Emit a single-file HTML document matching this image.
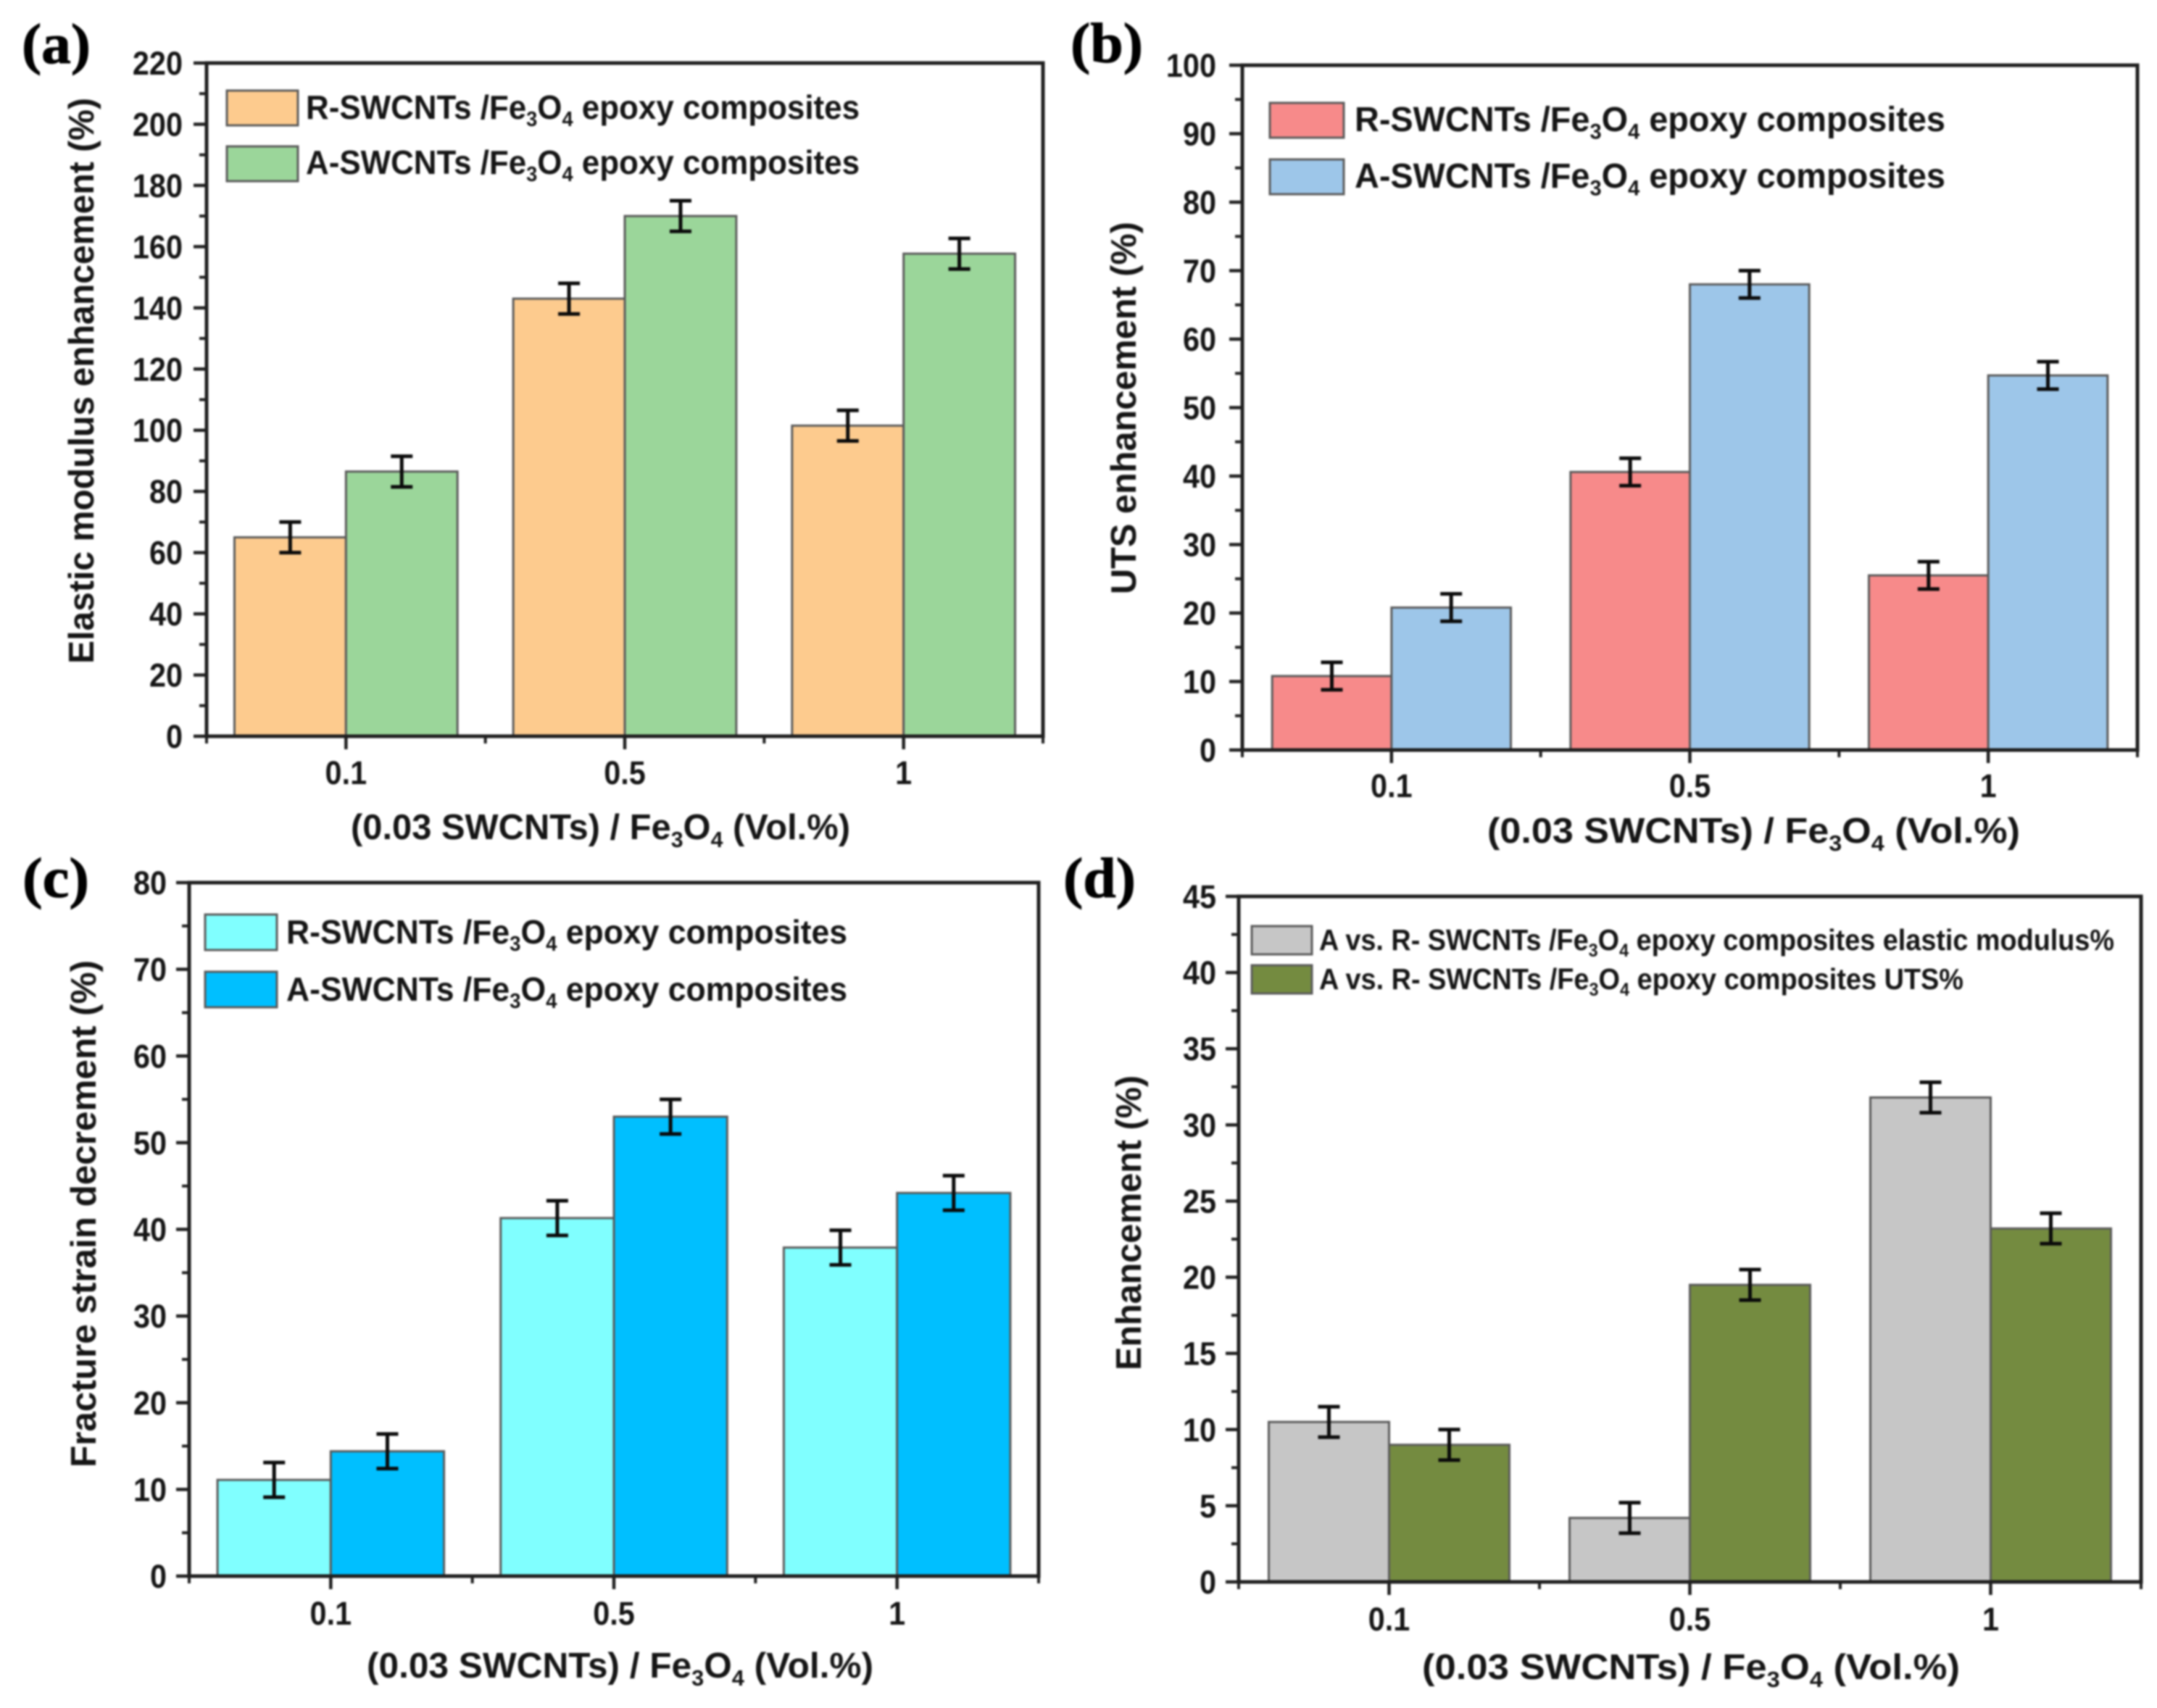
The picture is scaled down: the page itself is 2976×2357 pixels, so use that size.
<!DOCTYPE html>
<html lang="en">
<head>
<meta charset="utf-8">
<title>SWCNT / Fe3O4 epoxy composite enhancement charts</title>
<style>
html,body{margin:0;padding:0;background:#fff;width:2976px;height:2357px;overflow:hidden}
svg{display:block;filter:blur(1.4px)}
text{font-family:"Liberation Sans",sans-serif;font-weight:700;fill:#151515}
.panel-letter{font-family:"Liberation Serif",serif;font-weight:700;fill:#000;stroke:#000;stroke-width:1}
</style>
</head>
<body>
<svg id="figure" xmlns="http://www.w3.org/2000/svg" width="2976" height="2357" viewBox="0 0 2976 2357"></svg>
<script>
// ---------- data ----------
const categories = ['0.1', '0.5', '1'];

const aTicks = [0, 20, 40, 60, 80, 100, 120, 140, 160, 180, 200, 220];
const aSeriesR = [65, 143, 101.5];
const aSeriesA = [86.5, 170, 157.7];
const aErrorsR = [5, 5, 5];
const aErrorsA = [5, 5, 5];

const bTicks = [0, 10, 20, 30, 40, 50, 60, 70, 80, 90, 100];
const bSeriesR = [10.8, 40.6, 25.5];
const bSeriesA = [20.8, 68, 54.7];
const bErrorsR = [2, 2, 2];
const bErrorsA = [2, 2, 2];

const cTicks = [0, 10, 20, 30, 40, 50, 60, 70, 80];
const cSeriesR = [11.1, 41.3, 37.9];
const cSeriesA = [14.4, 53, 44.2];
const cErrorsR = [2, 2, 2];
const cErrorsA = [2, 2, 2];

const dTicks = [0, 5, 10, 15, 20, 25, 30, 35, 40, 45];
const dSeriesModulus = [10.5, 4.2, 31.8];
const dSeriesUts = [9, 19.5, 23.2];
const dErrorsModulus = [1, 1, 1];
const dErrorsUts = [1, 1, 1];

const legendR = 'R-SWCNTs /Fe_3O_4 epoxy composites';
const legendA = 'A-SWCNTs /Fe_3O_4 epoxy composites';
const legendModulus = 'A vs. R- SWCNTs /Fe_3O_4 epoxy composites elastic modulus%';
const legendUts = 'A vs. R- SWCNTs /Fe_3O_4 epoxy composites UTS%';
const xAxisTitle = '(0.03 SWCNTs) / Fe_3O_4 (Vol.%)';

// ---------- layout ----------
const panels = [
  {
    id: 'a', letter: '(a)', letterBox: [30, 87, 95],
    left: 285, right: 1439, top: 87, bottom: 1016,
    ticks: aTicks, s1: aSeriesR, s2: aSeriesA, e1: aErrorsR, e2: aErrorsA,
    c1: '#FDCB8E', c2: '#9BD69A',
    yTitle: 'Elastic modulus enhancement (%)', yTitleX: 129, yTitleY0: 916, yTitleY1: 135,
    xTitleX0: 484, xTitleX1: 1173, xTitleY: 1158, xLabelY: 1082, tickLabelGap: 33,
    legend: { x0: 313, x1: 411, h: 48, y: [125, 202], tx0: 422, tx1: 1186, base: [164, 240], size: 46, tx1b: 1186 },
    legendTexts: [legendR, legendA]
  },
  {
    id: 'b', letter: '(b)', letterBox: [1477, 86, 100],
    left: 1714, right: 2949, top: 90, bottom: 1035,
    ticks: bTicks, s1: bSeriesR, s2: bSeriesA, e1: bErrorsR, e2: bErrorsA,
    c1: '#F78A8A', c2: '#9DC6E9',
    yTitle: 'UTS enhancement (%)', yTitleX: 1567, yTitleY0: 820, yTitleY1: 306,
    xTitleX0: 2052, xTitleX1: 2787, xTitleY: 1163, xLabelY: 1100, tickLabelGap: 36,
    legend: { x0: 1752, x1: 1854, h: 48, y: [142, 220], tx0: 1869, tx1: 2684, base: [181, 259], size: 48, tx1b: 2684 },
    legendTexts: [legendR, legendA]
  },
  {
    id: 'c', letter: '(c)', letterBox: [31, 1238, 92],
    left: 261, right: 1433, top: 1218, bottom: 2175,
    ticks: cTicks, s1: cSeriesR, s2: cSeriesA, e1: cErrorsR, e2: cErrorsA,
    c1: '#80FFFF', c2: '#00BFFF',
    yTitle: 'Fracture strain decrement (%)', yTitleX: 132, yTitleY0: 2025, yTitleY1: 1325,
    xTitleX0: 506, xTitleX1: 1205, xTitleY: 2315, xLabelY: 2242, tickLabelGap: 31,
    legend: { x0: 283, x1: 382, h: 49, y: [1262, 1341], tx0: 395, tx1: 1169, base: [1302, 1381], size: 46, tx1b: 1169 },
    legendTexts: [legendR, legendA]
  },
  {
    id: 'd', letter: '(d)', letterBox: [1467, 1238, 100],
    left: 1709, right: 2954, top: 1237, bottom: 2183,
    ticks: dTicks, s1: dSeriesModulus, s2: dSeriesUts, e1: dErrorsModulus, e2: dErrorsUts,
    c1: '#C6C6C6', c2: '#748B40',
    yTitle: 'Enhancement (%)', yTitleX: 1574, yTitleY0: 1891, yTitleY1: 1484,
    xTitleX0: 1962, xTitleX1: 2704, xTitleY: 2317, xLabelY: 2250, tickLabelGap: 31,
    legend: { x0: 1727, x1: 1810, h: 39, y: [1278, 1332], tx0: 1820, tx1: 2917, base: [1311, 1365], size: 41, tx1b: 2709 },
    legendTexts: [legendModulus, legendUts]
  }
];

const NS = 'http://www.w3.org/2000/svg';
const AXIS = '#1f1f1f';
const svg = document.getElementById('figure');

function make(parent, tag, geom) {
  const node = document.createElementNS(NS, tag);
  for (const k in geom) node.setAttribute(k, geom[k]);
  parent.appendChild(node);
  return node;
}

function fillRich(node, str, size) {
  const parts = str.split(/_(\d)/);
  const shift = size * 0.22;
  let restore = false;
  parts.forEach((part, i) => {
    if (part === '') return;
    const span = document.createElementNS(NS, 'tspan');
    if (i % 2 === 1) {
      span.setAttribute('dy', shift);
      span.setAttribute('font-size', size * 0.62);
      restore = true;
    } else if (restore) {
      span.setAttribute('dy', -shift);
      restore = false;
    }
    span.textContent = part;
    node.appendChild(span);
  });
}

// Tick labels in the reference are taller and narrower than plain Liberation Sans.
function condense(node) {
  const w = node.getComputedTextLength();
  node.setAttribute('textLength', w * 0.92);
  node.setAttribute('lengthAdjust', 'spacingAndGlyphs');
}

function yScale(p, v) {
  const top = p.ticks[p.ticks.length - 1];
  return p.bottom - (v / top) * (p.bottom - p.top);
}
function xStep(p) { return (p.right - p.left) / categories.length; }
function xCenter(p, i) { return p.left + xStep(p) * (i + 0.5); }
function barWidth(p) { return xStep(p) * 0.4; }

panels.forEach(p => {
  const g = make(svg, 'g', {});
  
  

  // panel letter
  const letter = make(g, 'text', { x: p.letterBox[0], y: p.letterBox[1], 'font-size': 78, textLength: p.letterBox[2], lengthAdjust: 'spacingAndGlyphs', class: 'panel-letter' });
  
  
  letter.textContent = p.letter;

  // bars
  const bw = barWidth(p);
  categories.forEach((cat, i) => {
    const cx = xCenter(p, i);
    const y1 = yScale(p, p.s1[i]);
    const y2 = yScale(p, p.s2[i]);
    const b1 = make(g, 'rect', { x: cx - bw, y: y1, width: bw, height: p.bottom - y1, fill: p.c1, stroke: '#5a5a5a', 'stroke-width': 3 });
    
    
    const b2 = make(g, 'rect', { x: cx, y: y2, width: bw, height: p.bottom - y2, fill: p.c2, stroke: '#5a5a5a', 'stroke-width': 3 });
    
    
  });

  // error bars
  categories.forEach((cat, i) => {
    const cx = xCenter(p, i);
    [[cx - bw / 2, p.s1[i], p.e1[i], 'series1'], [cx + bw / 2, p.s2[i], p.e2[i], 'series2']].forEach(item => {
      const ex = item[0];
      const hi = yScale(p, item[1] + item[2]);
      const lo = yScale(p, item[1] - item[2]);
      const path = make(g, 'path', {
        d: 'M' + (ex - 15) + ' ' + hi + 'H' + (ex + 15) + 'M' + ex + ' ' + hi + 'V' + lo + 'M' + (ex - 15) + ' ' + lo + 'H' + (ex + 15),
        fill: 'none', stroke: '#0a0a0a', 'stroke-width': 5
      });
      
      
    });
  });

  // plot frame
  const frame = make(g, 'rect', { x: p.left, y: p.top, width: p.right - p.left, height: p.bottom - p.top, fill: 'none', stroke: AXIS, 'stroke-width': 5 });
  
  

  // y ticks
  p.ticks.forEach((t, i) => {
    const y = yScale(p, t);
    const tick = make(g, 'line', { x1: p.left - 18, x2: p.left, y1: y, y2: y, stroke: AXIS, 'stroke-width': 4.5 });
    
    
    const label = make(g, 'text', { x: p.left - p.tickLabelGap, y: y + 16, 'text-anchor': 'end', 'font-size': 45 });
    
    
    label.textContent = t;
    condense(label);
    if (i < p.ticks.length - 1) {
      const ym = yScale(p, (t + p.ticks[i + 1]) / 2);
      const minor = make(g, 'line', { x1: p.left - 10, x2: p.left, y1: ym, y2: ym, stroke: AXIS, 'stroke-width': 4 });
      
      
    }
  });

  // x ticks
  categories.forEach((cat, i) => {
    const cx = xCenter(p, i);
    const tick = make(g, 'line', { x1: cx, x2: cx, y1: p.bottom, y2: p.bottom + 18, stroke: AXIS, 'stroke-width': 4.5 });
    
    
    const label = make(g, 'text', { x: cx, y: p.xLabelY, 'text-anchor': 'middle', 'font-size': 45 });
    
    
    label.textContent = cat;
    condense(label);
  });
  for (let i = 0; i <= categories.length; i++) {
    const mx = p.left + xStep(p) * i;
    const minor = make(g, 'line', { x1: mx, x2: mx, y1: p.bottom, y2: p.bottom + 10, stroke: AXIS, 'stroke-width': 4 });
    
    
  }

  // axis titles
  const yT = make(g, 'text', {
    x: 0, y: 0, 'font-size': 49, textLength: p.yTitleY0 - p.yTitleY1, lengthAdjust: 'spacingAndGlyphs',
    transform: 'translate(' + p.yTitleX + ' ' + p.yTitleY0 + ') rotate(-90)'
  });
  
  
  yT.textContent = p.yTitle;

  const xT = make(g, 'text', { x: p.xTitleX0, y: p.xTitleY, 'font-size': 49, textLength: p.xTitleX1 - p.xTitleX0, lengthAdjust: 'spacingAndGlyphs' });
  
  
  fillRich(xT, xAxisTitle, 49);

  // legend
  const L = p.legend;
  [p.c1, p.c2].forEach((col, i) => {
    const sw = make(g, 'rect', { x: L.x0, y: L.y[i], width: L.x1 - L.x0, height: L.h, fill: col, stroke: '#5a5a5a', 'stroke-width': 3 });
    
    
    const end = i === 0 ? L.tx1 : L.tx1b;
    const tx = make(g, 'text', { x: L.tx0, y: L.base[i], 'font-size': L.size, textLength: end - L.tx0, lengthAdjust: 'spacingAndGlyphs' });
    
    
    fillRich(tx, p.legendTexts[i], L.size);
  });
});
</script>
</body>
</html>
